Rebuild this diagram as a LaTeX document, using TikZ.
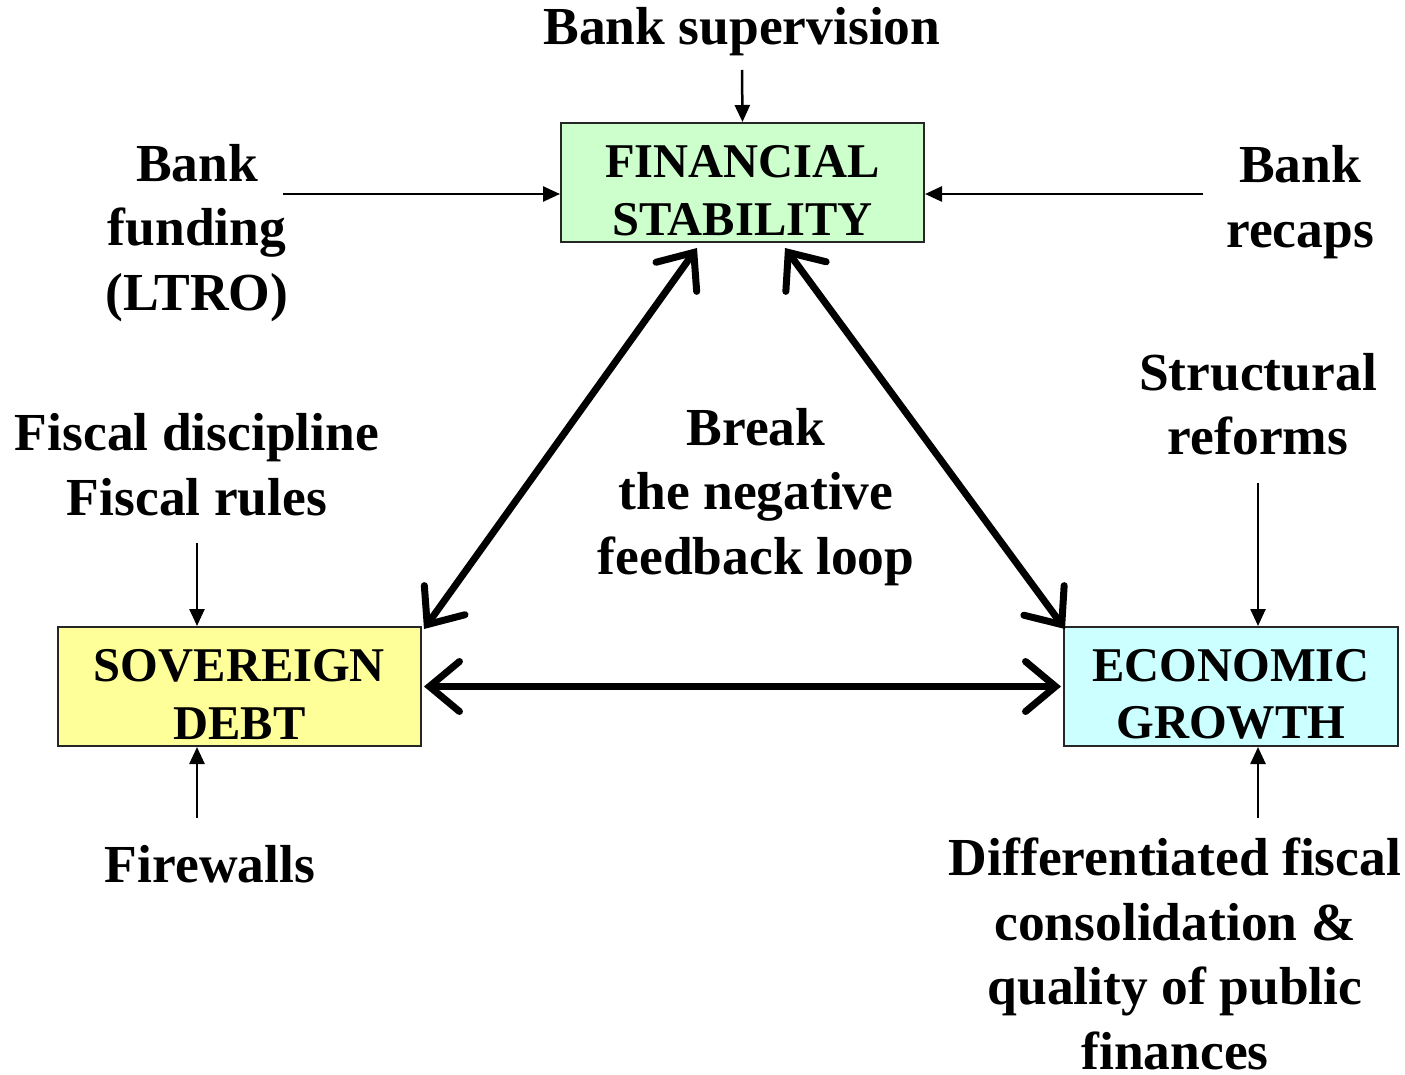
\documentclass[tikz,border=0pt]{standalone}
\usepackage{fontspec}
\setmainfont{Liberation Serif}
\usetikzlibrary{arrows.meta}
\definecolor{fsgreen}{HTML}{CCFFCC}
\definecolor{sdyellow}{HTML}{FFFF99}
\definecolor{egcyan}{HTML}{CCFFFF}
\newcommand{\topstrut}{\rule{0pt}{48pt}}
\begin{document}
\begin{tikzpicture}[x=1pt,y=-1pt,
  box/.style={draw=black!85,line width=2pt,minimum height=119pt,inner sep=0pt,align=center,
    font=\bfseries\fontsize{48.5}{57.5}\selectfont},
  lbl/.style={align=center,inner sep=0pt,font=\bfseries\fontsize{53.5}{64.5}\selectfont},
  thin/.style={line width=2.5pt,-{Triangle[length=17pt,width=15pt]}},
  thick/.style={line width=7pt,line cap=round,{Straight Barb[length=30pt,width=50pt,line width=7pt,line cap=round]}-{Straight Barb[length=30pt,width=50pt,line width=7pt,line cap=round]}}]
\useasboundingbox (0,0) rectangle (1405,1075);
\node[box,fill=fsgreen,minimum width=363pt] (fs) at (742.5,182.5) {\topstrut FINANCIAL\\STABILITY};
\node[box,fill=sdyellow,minimum width=363pt] (sd) at (239.5,686.5) {\topstrut SOVEREIGN\\DEBT};
\node[box,fill=egcyan,minimum width=334pt] (eg) at (1231,686.5) {\topstrut ECONOMIC\\GROWTH};
\node[lbl] (bsup) at (742,32) {Bank supervision};
\node[lbl] (bfund) at (197,233) {Bank\\funding\\(LTRO)};
\node[lbl] (brecap) at (1300,202) {Bank\\recaps};
\node[lbl] (fisc) at (197,465) {Fiscal discipline\\Fiscal rules};
\node[lbl] (fire) at (210,864) {Firewalls};
\node[lbl] (struct) at (1258,404) {Structural\\reforms};
\node[lbl] (diff) at (1175,954) {Differentiated fiscal\\consolidation \&\\quality of public\\finances};
\node[lbl] (brk) at (756,497) {Break\\the negative\\feedback loop};
\coordinate (c1) at (742,70);
\coordinate (c2) at (283,194);
\coordinate (c3) at (1203,194);
\coordinate (c4) at (197,543);
\coordinate (c5) at (197,818);
\coordinate (c6) at (1258,483);
\coordinate (c7) at (1258,818);
\draw[thin] (c1) -- (fs.north);
\draw[thin] (c2) -- (c2 -| fs.west);
\draw[thin] (c3) -- (c3 -| fs.east);
\draw[thin] (c4) -- (c4 |- sd.north);
\draw[thin] (c5) -- (c5 |- sd.south);
\draw[thin] (c6) -- (c6 |- eg.north);
\draw[thin] (c7) -- (c7 |- eg.south);
\draw[thick] ([xshift=2pt,yshift=-3pt]sd.north east) -- ([xshift=-45.5pt,yshift=-5pt]fs.south);
\draw[thick] ([xshift=42.5pt,yshift=-5pt]fs.south) -- ([xshift=2pt,yshift=-3pt]eg.north west);
\draw[thick] ([xshift=2pt]sd.east) -- ([xshift=-2pt]eg.west);
\end{tikzpicture}
\end{document}
